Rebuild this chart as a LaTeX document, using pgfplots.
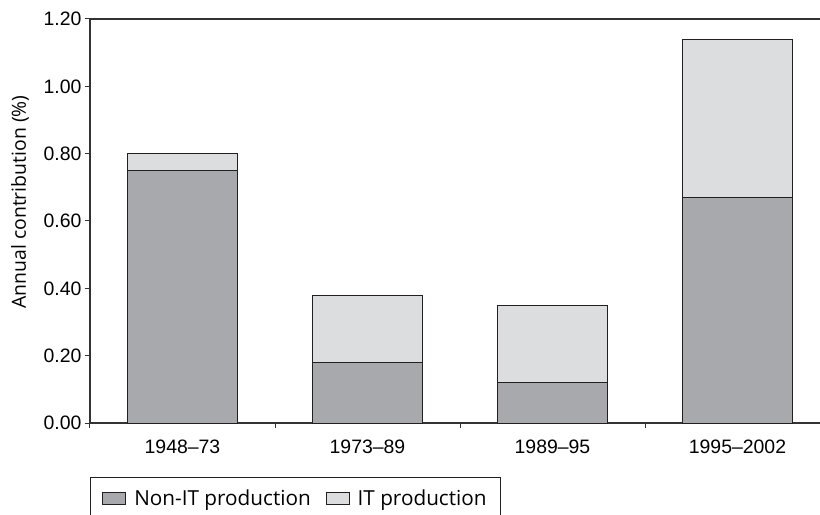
\documentclass[border=0pt]{standalone}
\usepackage{pgfplots}
\pgfplotsset{compat=1.18}
\usepackage{fontspec}
\setmainfont{Liberation Sans}
\newfontfamily\labelfont{Open Sans}
\usetikzlibrary{calc}
\definecolor{nonit}{HTML}{A7A9AC}
\definecolor{itprod}{HTML}{DCDDDF}
\definecolor{edge}{HTML}{231F20}
\definecolor{axline}{HTML}{333333}

\begin{document}
\begin{tikzpicture}
\begin{axis}[
    name=ax,
    scale only axis,
    width=740bp, height=404bp,
    xmin=-0.5, xmax=3.5,
    ymin=0, ymax=1.2,
    ybar stacked,
    bar width=0.59,
    axis line style={axline, line width=1.2bp},
    ytick={0,0.2,0.4,0.6,0.8,1.0,1.2},
    yticklabel style={/pgf/number format/fixed, /pgf/number format/fixed zerofill,
        /pgf/number format/precision=2},
    /pgf/number format/assume math mode=true,
    ytick pos=left, xtick pos=bottom,
    tick align=outside,
    major tick length=5bp,
    tick style={axline, line width=1bp},
    xtick={-0.5,0.5,1.5,2.5},
    xticklabels={},
    extra x ticks={0,1,2,3},
    extra x tick labels={1948–73,1973–89,1989–95,1995–2002},
    extra x tick style={major tick length=0pt,
        tick label style={yshift=-13bp}},
    tick label style={font=\fontsize{19.5}{22}\selectfont},
    every axis y label/.style={at={(rel axis cs:0,0.547)}, rotate=90,
        anchor=center, yshift=70bp},
    ylabel={\labelfont\fontsize{19.5}{22}\selectfont Annual contribution (\%)},
    legend style={at={(rel axis cs:0,0)}, anchor=north west, yshift=-54bp,
        draw=edge, line width=0.8bp, inner xsep=12bp, inner ysep=10bp,
        font=\labelfont\fontsize{20.8}{23}\selectfont,
        /tikz/every even column/.append style={column sep=13bp}},
    legend columns=2,
    legend cell align=left,
    legend image code/.code={\draw[#1] (0bp,-6bp) rectangle (23bp,6bp);
        \path (29bp,0bp);},
]
\addplot[fill=nonit, draw=edge, line width=0.9bp] coordinates {
    (0,0.75) (1,0.18) (2,0.12) (3,0.67)
};
\addplot[fill=itprod, draw=edge, line width=0.9bp] coordinates {
    (0,0.05) (1,0.20) (2,0.23) (3,0.47)
};
\legend{Non-IT production, IT production}
\end{axis}
\pgfresetboundingbox
\path ($(ax.south west)+(-90bp,-92bp)$) rectangle ($(ax.south west)+(730bp,423bp)$);
\end{tikzpicture}
\end{document}
